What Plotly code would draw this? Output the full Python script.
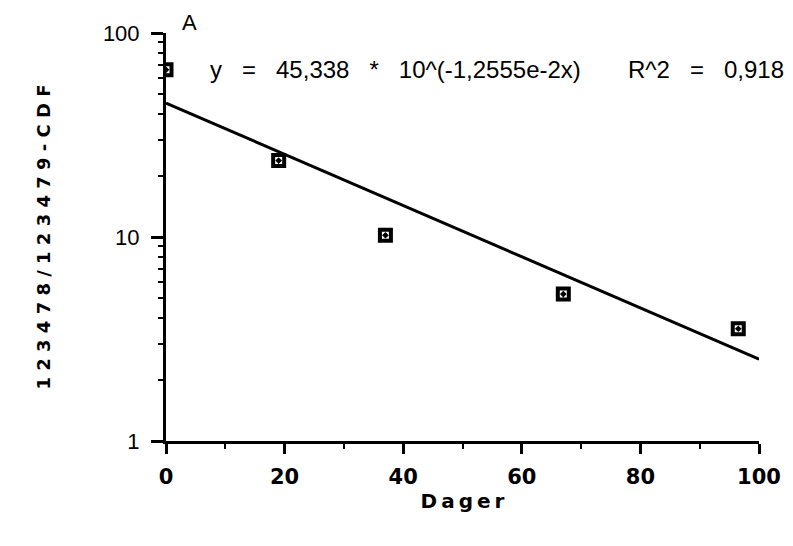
import numpy as np
import plotly.graph_objects as go

# Data
days = [0, 19, 37, 67, 96.5]
ratio = [66, 23.7, 10.2, 5.25, 3.55]

# Fitted exponential: y = a * 10^(b*x)
fit_a = 45.338
fit_b = -1.2555e-2
fit_x = [0, 100]
fit_y = [fit_a * 10 ** (fit_b * x) for x in fit_x]

x_ticks = [0, 20, 40, 60, 80, 100]
y_ticks = [1, 10, 100]

equation_text = "y   =   45,338   *   10^(-1,2555e-2x)"
r2_text = "R^2   =   0,918"
panel_label = "A"
x_title = "Dager"
y_title = "123478/123479-CDF"

def spaced(s, sep=" "):
    return sep.join(list(s))

fig = go.Figure()
fig.add_trace(go.Scatter(
    x=fit_x, y=fit_y, mode="lines",
    line=dict(color="black", width=3),
    showlegend=False, hoverinfo="skip",
))
fig.add_trace(go.Scatter(
    x=days, y=ratio, mode="markers",
    marker=dict(symbol="square-open-dot", size=11, color="black",
                line=dict(color="black", width=4)),
    showlegend=False,
))

fig.update_layout(
    width=785, height=538,
    paper_bgcolor="white", plot_bgcolor="white",
    margin=dict(l=158, r=30, t=25, b=105),
    font=dict(family="Liberation Sans, Arial, sans-serif", color="black"),
    xaxis=dict(
        range=[0, 100], tickvals=x_ticks,
        ticktext=[str(v) for v in x_ticks],
        showgrid=False, zeroline=False,
        showline=True, linecolor="black", linewidth=3,
        ticks="outside", ticklen=10, tickwidth=3, tickcolor="black",
        ticklabelstandoff=5,
        tickfont=dict(family="DejaVu Sans", size=21, weight="bold"),
        minor=dict(dtick=10, ticks="outside", ticklen=5, tickwidth=2, tickcolor="black"),
        title=dict(text=spaced(x_title, "\u2009"),
                   font=dict(family="DejaVu Sans", size=20, weight="bold"),
                   standoff=6),
        fixedrange=True,
    ),
    yaxis=dict(
        type="log", range=[0, 2], tickvals=y_ticks,
        ticktext=[str(v) for v in y_ticks],
        showgrid=False, zeroline=False,
        showline=True, linecolor="black", linewidth=3,
        ticks="outside", ticklen=12, tickwidth=3, tickcolor="black",
        ticklabelstandoff=7,
        tickfont=dict(family="Liberation Sans, Arial", size=22),
        minor=dict(dtick="D1", ticks="outside", ticklen=5, tickwidth=2, tickcolor="black"),
        title=dict(text=spaced(y_title),
                   font=dict(family="DejaVu Sans", size=18, weight="bold"),
                   standoff=48),
        fixedrange=True,
    ),
    annotations=[
        dict(x=7, y=1.823, xref="x", yref="y", text=equation_text,
             showarrow=False, xanchor="left", yanchor="middle",
             font=dict(size=24, family="Liberation Sans, Arial")),
        dict(x=1.0, y=1.823, xref="paper", yref="y", text=r2_text,
             showarrow=False, xanchor="right", yanchor="middle", xshift=27,
             font=dict(size=24, family="Liberation Sans, Arial")),
        dict(x=2.3, y=1.0, xref="x", yref="paper", text=panel_label,
             showarrow=False, xanchor="left", yanchor="middle", yshift=11,
             font=dict(size=22, family="Liberation Sans, Arial")),
    ],
)

fig.write_html("out.html")
